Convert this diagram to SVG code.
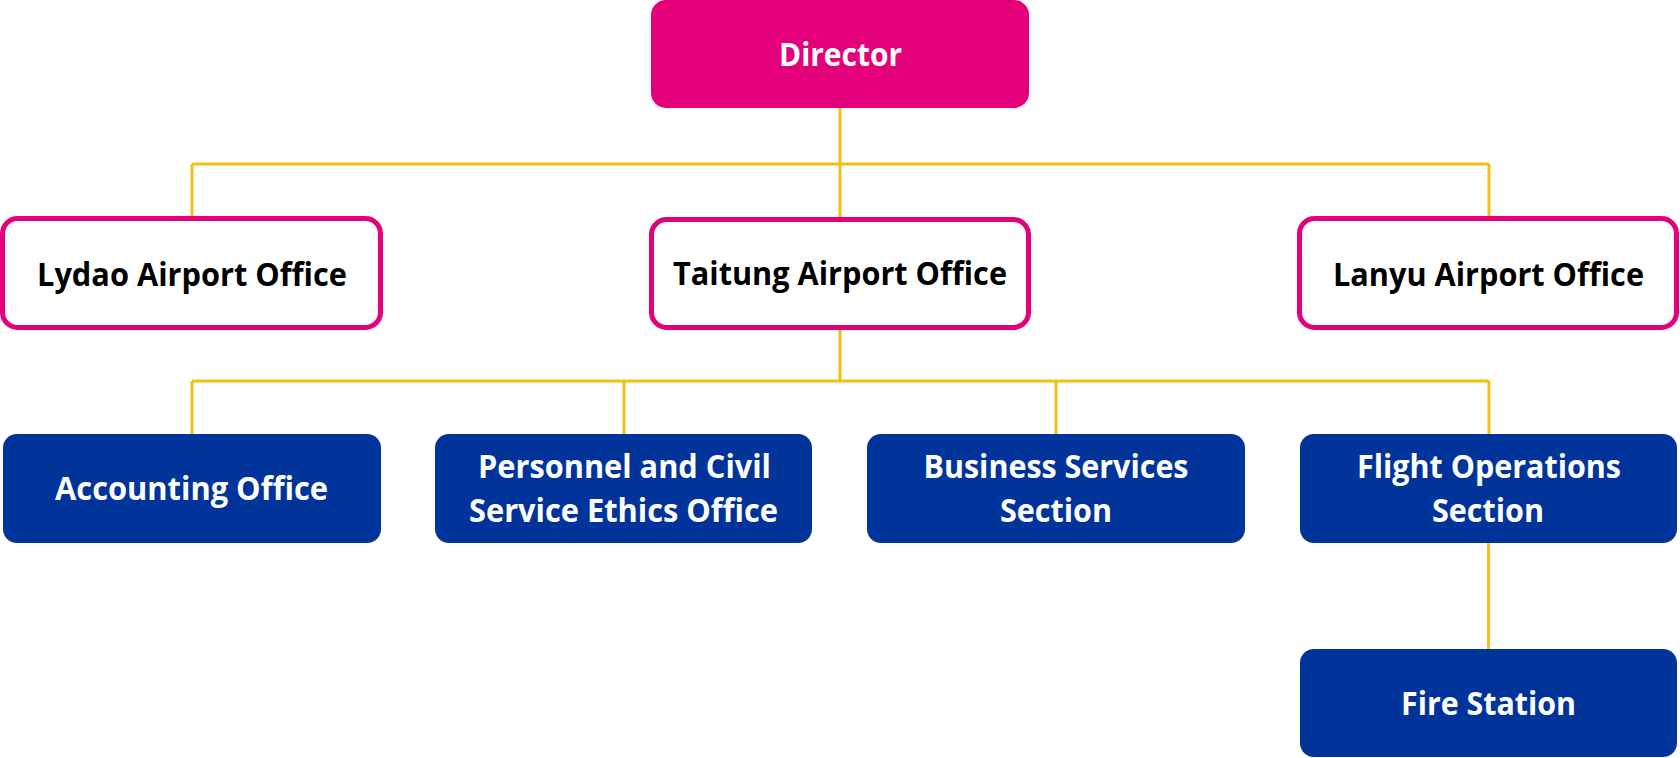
<svg xmlns="http://www.w3.org/2000/svg" width="1680" height="758" viewBox="0 0 1680 758">
<style>
.conn{stroke:#F5BE12;stroke-width:3;fill:none}
.pink{fill:#E4007A}
.outl{fill:#FFFFFF;stroke:#E4007A;stroke-width:5}
.blue{fill:#00349A}
text{font-family:"Open Sans","Liberation Sans",sans-serif;font-weight:bold;font-size:32px;text-anchor:middle}
.w{fill:#FFFFFF}
.k{fill:#000000}
</style>
<rect width="1680" height="758" fill="#FFFFFF"/>
<g id="connectors">
<line class="conn" x1="840" y1="108" x2="840" y2="217"/>
<line class="conn" x1="192" y1="164" x2="1489" y2="164"/>
<line class="conn" x1="192" y1="164" x2="192" y2="216"/>
<line class="conn" x1="1489" y1="164" x2="1489" y2="216"/>
<line class="conn" x1="840" y1="330" x2="840" y2="381"/>
<line class="conn" x1="192" y1="381" x2="1489" y2="381"/>
<line class="conn" x1="192" y1="381" x2="192" y2="434"/>
<line class="conn" x1="624" y1="381" x2="624" y2="434"/>
<line class="conn" x1="1056" y1="381" x2="1056" y2="434"/>
<line class="conn" x1="1489" y1="381" x2="1489" y2="434"/>
<line class="conn" x1="1488.5" y1="543" x2="1488.5" y2="649"/>
</g>
<g id="director">
<rect class="pink" x="651" y="0" width="378" height="108" rx="15"/>
<text class="w" x="840.5" y="66" textLength="123" lengthAdjust="spacingAndGlyphs">Director</text>
</g>
<g id="lydao">
<rect class="outl" x="2.5" y="218.5" width="378" height="109" rx="15"/>
<text class="k" x="192" y="286" textLength="310" lengthAdjust="spacingAndGlyphs">Lydao Airport Office</text>
</g>
<g id="taitung">
<rect class="outl" x="651.5" y="219.5" width="377" height="108" rx="15"/>
<text class="k" x="840" y="285" textLength="334" lengthAdjust="spacingAndGlyphs">Taitung Airport Office</text>
</g>
<g id="lanyu">
<rect class="outl" x="1299.5" y="218.5" width="377" height="109" rx="15"/>
<text class="k" x="1488.5" y="286" textLength="311" lengthAdjust="spacingAndGlyphs">Lanyu Airport Office</text>
</g>
<g id="accounting">
<rect class="blue" x="3" y="434" width="378" height="109" rx="14"/>
<text class="w" x="191.5" y="500" textLength="273" lengthAdjust="spacingAndGlyphs">Accounting Office</text>
</g>
<g id="personnel">
<rect class="blue" x="435" y="434" width="377" height="109" rx="14"/>
<text class="w" x="624.5" y="478" textLength="293" lengthAdjust="spacingAndGlyphs">Personnel and Civil</text>
<text class="w" x="623.5" y="522" textLength="309" lengthAdjust="spacingAndGlyphs">Service Ethics Office</text>
</g>
<g id="business">
<rect class="blue" x="867" y="434" width="378" height="109" rx="14"/>
<text class="w" x="1056" y="478" textLength="265" lengthAdjust="spacingAndGlyphs">Business Services</text>
<text class="w" x="1056" y="522" textLength="112" lengthAdjust="spacingAndGlyphs">Section</text>
</g>
<g id="flightops">
<rect class="blue" x="1300" y="434" width="377" height="109" rx="14"/>
<text class="w" x="1489" y="478" textLength="264" lengthAdjust="spacingAndGlyphs">Flight Operations</text>
<text class="w" x="1488" y="522" textLength="112" lengthAdjust="spacingAndGlyphs">Section</text>
</g>
<g id="firestation">
<rect class="blue" x="1300" y="649" width="377" height="108" rx="14"/>
<text class="w" x="1488.5" y="715" textLength="175" lengthAdjust="spacingAndGlyphs">Fire Station</text>
</g>
</svg>
